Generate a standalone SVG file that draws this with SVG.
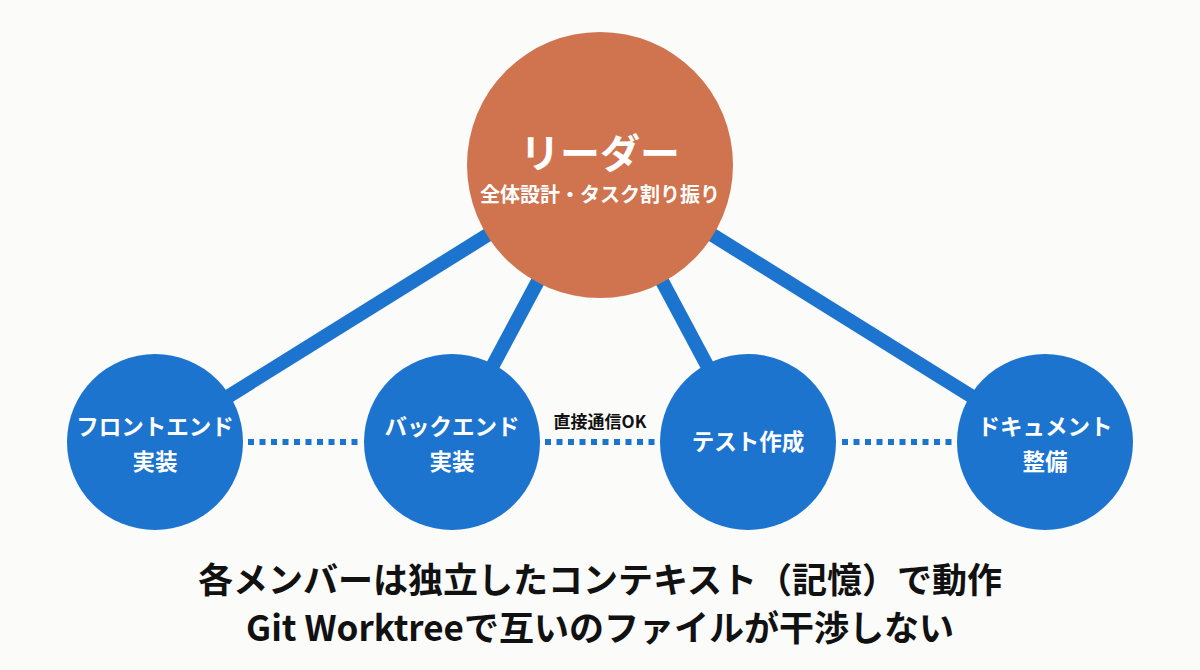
<svg xmlns="http://www.w3.org/2000/svg" width="1200" height="670" viewBox="0 0 1200 670">
<style>
.t{font-family:"Noto Sans CJK JP","Noto Sans",sans-serif;font-weight:700;text-anchor:middle}
.w{fill:#FFFFFF}
.k{fill:#111111}
.node{fill:#1C74CF}
.n{font-size:22.5px}
.link{stroke:#1C74CF;stroke-width:14;fill:none}
.dot{stroke:#1C74CF;stroke-width:6;stroke-dasharray:6 5.5;fill:none}
</style>
<rect width="1200" height="670" fill="#FBFBF9"/>
<g id="connectors">
<line class="link" x1="600" y1="165" x2="155" y2="442"/>
<line class="link" x1="600" y1="165" x2="452" y2="442"/>
<line class="link" x1="600" y1="165" x2="748" y2="442"/>
<line class="link" x1="600" y1="165" x2="1045" y2="442"/>
<line class="dot" x1="248" y1="442" x2="358" y2="442"/>
<line class="dot" x1="545" y1="442" x2="655" y2="442"/>
<line class="dot" x1="842" y1="442" x2="952" y2="442"/>
<text class="t k" x="600" y="428" font-size="17">直接通信OK</text>
</g>
<g id="leader">
<circle cx="600" cy="165" r="133" fill="#D0734F"/>
<text class="t w" x="600" y="168" font-size="40">リーダー</text>
<text class="t w" x="600" y="202" font-size="20">全体設計・タスク割り振り</text>
</g>
<g id="frontend">
<circle class="node" cx="155" cy="442" r="88"/>
<text class="t w n" x="155" y="435">フロントエンド</text>
<text class="t w n" x="155" y="470">実装</text>
</g>
<g id="backend">
<circle class="node" cx="452" cy="442" r="88"/>
<text class="t w n" x="452" y="435">バックエンド</text>
<text class="t w n" x="452" y="470">実装</text>
</g>
<g id="test">
<circle class="node" cx="748" cy="442" r="88"/>
<text class="t w n" x="748" y="450">テスト作成</text>
</g>
<g id="docs">
<circle class="node" cx="1045" cy="442" r="88"/>
<text class="t w n" x="1045" y="435">ドキュメント</text>
<text class="t w n" x="1045" y="470">整備</text>
</g>
<g id="caption">
<text class="t k" x="600" y="593" font-size="35">各メンバーは独立したコンテキスト（記憶）で動作</text>
<text class="t k" x="600" y="641" font-size="35">Git Worktreeで互いのファイルが干渉しない</text>
</g>
</svg>
